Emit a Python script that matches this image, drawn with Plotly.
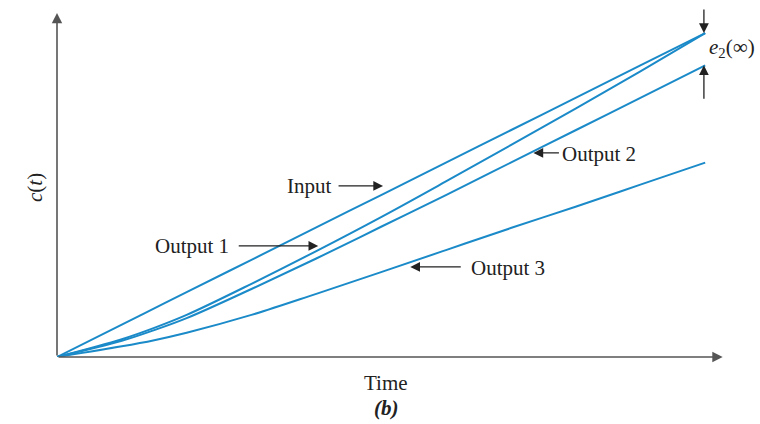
import plotly.graph_objects as go

# Data (time in arbitrary units, c(t) in arbitrary units)
t = [0, 1, 1.5, 2, 3, 4, 5, 6, 7, 8, 9, 10]
input_vals = [0, 1, 1.5, 2, 3, 4, 5, 6, 7, 8, 9, 10]
output1 = [0, 0.55, 0.9, 1.3, 2.26, 3.27, 4.32, 5.42, 6.54, 7.67, 8.82, 10.0]
output2 = [0, 0.5, 0.83, 1.2, 2.1, 3.04, 4.02, 5.0, 6.0, 7.0, 8.0, 9.0]
output3 = [0, 0.33, 0.52, 0.75, 1.3, 1.95, 2.62, 3.3, 3.98, 4.64, 5.32, 6.0]

series = [
    ("Input", input_vals),
    ("Output 1", output1),
    ("Output 2", output2),
    ("Output 3", output3),
]

BLUE = "#1b8ac8"
AX = "#555555"
FONT = "Liberation Serif"
FS = 21

fig = go.Figure()
for name, vals in series:
    fig.add_trace(go.Scatter(x=t, y=vals, mode="lines", name=name,
                             line=dict(color=BLUE, width=2), showlegend=False,
                             line_shape="spline", hoverinfo="skip"))

XMAX = 10.29
YMAX = 10.65

ann = []
# axes with arrowheads
ann.append(dict(x=XMAX - 0.02, y=0, ax=0, ay=0, xref="x", yref="y", axref="x", ayref="y",
                text="", showarrow=True, arrowhead=2, arrowsize=1.3, arrowwidth=1.6,
                arrowcolor=AX))
ann.append(dict(x=0, y=YMAX - 0.03, ax=0, ay=0, xref="x", yref="y", axref="x", ayref="y",
                text="", showarrow=True, arrowhead=2, arrowsize=1.3, arrowwidth=1.6,
                arrowcolor=AX))

def arrow(x, y, ax, ay):
    return dict(x=x, y=y, ax=ax, ay=ay, xref="x", yref="y", text="", showarrow=True,
                arrowhead=2, arrowsize=1.5, arrowwidth=1.3, arrowcolor="#222")

def label(x, y, text):
    return dict(x=x, y=y, xref="x", yref="y", text=text, showarrow=False,
                xanchor="center", yanchor="middle",
                font=dict(family=FONT, size=FS, color="#222"))

def plabel(px, py, text, angle=0):
    # position given in page pixels; plot area spans x 57..724, y 12..357
    return dict(x=(px - 57) / 667, y=(357 - py) / 345, xref="paper", yref="paper",
                text=text, showarrow=False, textangle=angle,
                xanchor="center", yanchor="middle",
                font=dict(family=FONT, size=FS, color="#222"))

ann += [
    arrow(5.03, 5.28, -46, 0), label(3.89, 5.28, "Input"),
    arrow(4.03, 3.43, -81, 0), label(2.08, 3.43, "Output 1"),
    arrow(7.35, 6.30, 27, 0), label(8.36, 6.27, "Output 2"),
    arrow(5.45, 2.78, 52, 0), label(6.96, 2.75, "Output 3"),
    arrow(9.98, 10.0, 0, -25), arrow(9.98, 9.01, 0, 35),
    plabel(732, 48, "<i>e</i><sub>2</sub>(∞)"),
    plabel(35, 188, "<i>c</i>(<i>t</i>)", angle=-90),
    plabel(386, 383, "Time"),
    plabel(386, 408, "<b><i>(b)</i></b>"),
]

fig.update_layout(
    width=760, height=424,
    margin=dict(l=57, r=36, t=12, b=67, autoexpand=False),
    plot_bgcolor="white", paper_bgcolor="white",
    xaxis=dict(range=[0, XMAX], showgrid=False, zeroline=False, showticklabels=False,
               ticks="", showline=False, fixedrange=True),
    yaxis=dict(range=[0, YMAX], showgrid=False, zeroline=False, showticklabels=False,
               ticks="", showline=False, fixedrange=True),
    annotations=ann,
    showlegend=False,
    hovermode=False,
)

fig.write_html(
    "out.html",
    config={"displayModeBar": False, "staticPlot": True},
    post_script="document.body.style.margin='0';document.body.style.overflow='hidden';",
)
